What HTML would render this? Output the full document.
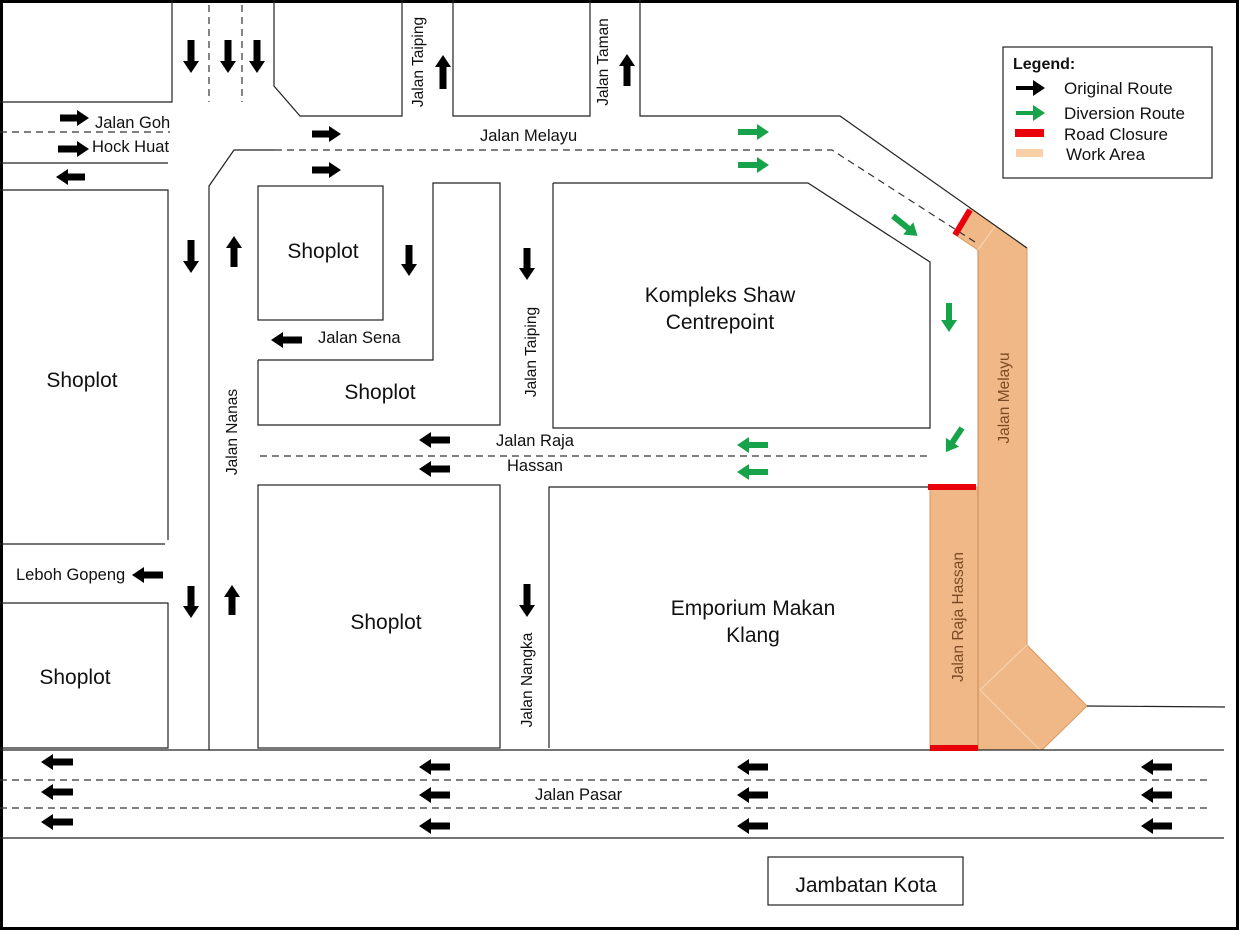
<!DOCTYPE html>
<html><head><meta charset="utf-8">
<style>
html,body{margin:0;padding:0;background:#fff;}
svg{display:block;}
text{font-family:"Liberation Sans",sans-serif;}
</style></head><body>
<svg width="1239" height="930" viewBox="0 0 1239 930" xmlns="http://www.w3.org/2000/svg">
<defs>
<marker id="hb" markerUnits="userSpaceOnUse" markerWidth="12" markerHeight="16" refX="1" refY="8" orient="auto"><path d="M0,0 L12,8 L0,16 Z" fill="#000"/></marker>
<marker id="hg" markerUnits="userSpaceOnUse" markerWidth="12" markerHeight="16" refX="1" refY="8" orient="auto"><path d="M0,0 L12,8 L0,16 Z" fill="#17a34a"/></marker>
</defs>
<rect x="1.5" y="1.5" width="1236" height="927" fill="#fff" stroke="#000" stroke-width="3"/>

<polygon points="954,234 970,208 1027,248 1027,645 1087,706 1042,750 930,750 930,487 978,487 978,250" fill="#f0b886" stroke="#d9995e" stroke-width="1"/>
<g stroke="#f6d2b0" stroke-width="1.2" fill="none">
<line x1="978" y1="250" x2="995" y2="226"/>
<line x1="980" y1="690" x2="1027" y2="645"/>
<line x1="980" y1="690" x2="1040" y2="750"/>
</g>
<line x1="978" y1="250" x2="978" y2="750" stroke="#c98b55" stroke-width="1"/>

<g stroke="#222" stroke-width="1.2" fill="none">
<polyline points="0,102 172,102 172,0"/>
<polyline points="274,0 274,86 300,116 402,116 402,0"/>
<polyline points="453,0 453,116 590,116 590,0"/>
<polyline points="640,0 640,116 840,116 1027,248"/>
<polyline points="0,163 168,163"/>
<polyline points="0,190 168,190 168,540"/>
<polyline points="0,544 165,544"/>
<polyline points="0,603 168,603 168,748 0,748"/>
<polyline points="209,750 209,186 234,150 275,150"/>
<rect x="258" y="186" width="125" height="134"/>
<polyline points="258,360 433,360 433,183 500,183 500,425 258,425 258,360"/>
<rect x="258" y="485" width="242" height="263"/>
<polyline points="553,183 808,183 930,262 930,428 553,428 553,183"/>
<polyline points="549,748 549,487 930,487"/>
<polyline points="1087,706 1225,707"/>
<line x1="0" y1="750" x2="1224" y2="750"/>
<line x1="0" y1="838" x2="1224" y2="838"/>
<rect x="768" y="857" width="195" height="48"/>
<rect x="1003" y="47" width="209" height="131"/>
</g>
<g stroke="#333" stroke-width="1.2" fill="none" stroke-dasharray="7,5">
<line x1="209" y1="5" x2="209" y2="102"/>
<line x1="242" y1="5" x2="242" y2="102"/>
<line x1="0" y1="132" x2="170" y2="132"/>
<polyline points="275,150 832,150 975,242"/>
<line x1="260" y1="456" x2="932" y2="456"/>
<line x1="0" y1="780" x2="1210" y2="780"/>
<line x1="0" y1="808" x2="1210" y2="808"/>
</g>

<g stroke="#e8000b" stroke-width="6">
<line x1="955" y1="235" x2="970" y2="210"/>
<line x1="928" y1="487" x2="976" y2="487"/>
<line x1="930" y1="748" x2="978" y2="748"/>
</g>

<g stroke="#000" stroke-width="7" marker-end="url(#hb)">
<line x1="191" y1="40" x2="191" y2="62"/>
<line x1="228" y1="40" x2="228" y2="62"/>
<line x1="257" y1="40" x2="257" y2="62"/>
<line x1="443" y1="89" x2="443" y2="66"/>
<line x1="627" y1="86" x2="627" y2="65"/>
<line x1="60" y1="118" x2="78" y2="118"/>
<line x1="58" y1="149" x2="78" y2="149"/>
<line x1="85" y1="177" x2="67" y2="177"/>
<line x1="312" y1="134" x2="330" y2="134"/>
<line x1="312" y1="170" x2="330" y2="170"/>
<line x1="191" y1="240" x2="191" y2="262"/>
<line x1="234" y1="267" x2="234" y2="247"/>
<line x1="409" y1="245" x2="409" y2="265"/>
<line x1="302" y1="340" x2="282" y2="340"/>
<line x1="527" y1="248" x2="527" y2="269"/>
<line x1="450" y1="440" x2="430" y2="440"/>
<line x1="450" y1="469" x2="430" y2="469"/>
<line x1="163" y1="575" x2="143" y2="575"/>
<line x1="191" y1="586" x2="191" y2="607"/>
<line x1="232" y1="615" x2="232" y2="596"/>
<line x1="527" y1="584" x2="527" y2="606"/>
<line x1="73" y1="762" x2="52" y2="762"/>
<line x1="73" y1="792" x2="52" y2="792"/>
<line x1="73" y1="822" x2="52" y2="822"/>
<line x1="450" y1="767" x2="430" y2="767"/>
<line x1="450" y1="795" x2="430" y2="795"/>
<line x1="450" y1="826" x2="430" y2="826"/>
<line x1="768" y1="767" x2="748" y2="767"/>
<line x1="768" y1="795" x2="748" y2="795"/>
<line x1="768" y1="826" x2="748" y2="826"/>
<line x1="1172" y1="767" x2="1152" y2="767"/>
<line x1="1172" y1="795" x2="1152" y2="795"/>
<line x1="1172" y1="826" x2="1152" y2="826"/>
<line x1="1016" y1="88" x2="1034" y2="88" stroke-width="4"/>
</g>
<g stroke="#17a34a" stroke-width="6" marker-end="url(#hg)">
<line x1="738" y1="132" x2="758" y2="132"/>
<line x1="738" y1="165" x2="758" y2="165"/>
<line x1="893" y1="216" x2="909" y2="229"/>
<line x1="949" y1="303" x2="949" y2="321"/>
<line x1="962" y1="428" x2="952" y2="443"/>
<line x1="768" y1="445" x2="748" y2="445"/>
<line x1="768" y1="472" x2="748" y2="472"/>
<line x1="1016" y1="113" x2="1034" y2="113" stroke-width="4"/>
</g>
<rect x="1015" y="129" width="29" height="8" fill="#e8000b"/>
<rect x="1016" y="149" width="27" height="8" fill="#f9cfa8"/>

<g font-size="16.5" fill="#111">
<text x="1013" y="69" font-weight="bold" font-size="16">Legend:</text>
<text x="1064" y="94" font-size="17">Original Route</text>
<text x="1064" y="119" font-size="17">Diversion Route</text>
<text x="1064" y="140" font-size="17">Road Closure</text>
<text x="1066" y="160" font-size="17">Work Area</text>
<text x="95" y="128">Jalan Goh</text>
<text x="92" y="152">Hock Huat</text>
<text x="480" y="141">Jalan Melayu</text>
<text x="318" y="343">Jalan Sena</text>
<text x="496" y="446">Jalan Raja</text>
<text x="507" y="471">Hassan</text>
<text x="16" y="580">Leboh Gopeng</text>
<text x="535" y="800">Jalan Pasar</text>
</g>
<g font-size="15.5" fill="#111">
<text transform="translate(423,62) rotate(-90)" text-anchor="middle">Jalan Taiping</text>
<text transform="translate(608,62) rotate(-90)" text-anchor="middle">Jalan Taman</text>
<text transform="translate(237,432) rotate(-90)" text-anchor="middle">Jalan Nanas</text>
<text transform="translate(536,352) rotate(-90)" text-anchor="middle">Jalan Taiping</text>
<text transform="translate(532,680) rotate(-90)" text-anchor="middle">Jalan Nangka</text>
<text transform="translate(1009,398) rotate(-90)" text-anchor="middle" fill="#7a4a25">Jalan Melayu</text>
<text transform="translate(963,617) rotate(-90)" text-anchor="middle" fill="#7a4a25">Jalan Raja Hassan</text>
</g>
<g font-size="21" fill="#111" text-anchor="middle">
<text x="82" y="387">Shoplot</text>
<text x="323" y="258">Shoplot</text>
<text x="380" y="399">Shoplot</text>
<text x="386" y="629">Shoplot</text>
<text x="75" y="684">Shoplot</text>
<text x="720" y="302">Kompleks Shaw</text>
<text x="720" y="329">Centrepoint</text>
<text x="753" y="615">Emporium Makan</text>
<text x="753" y="642">Klang</text>
<text x="866" y="892">Jambatan Kota</text>
</g>
</svg>
</body></html>
